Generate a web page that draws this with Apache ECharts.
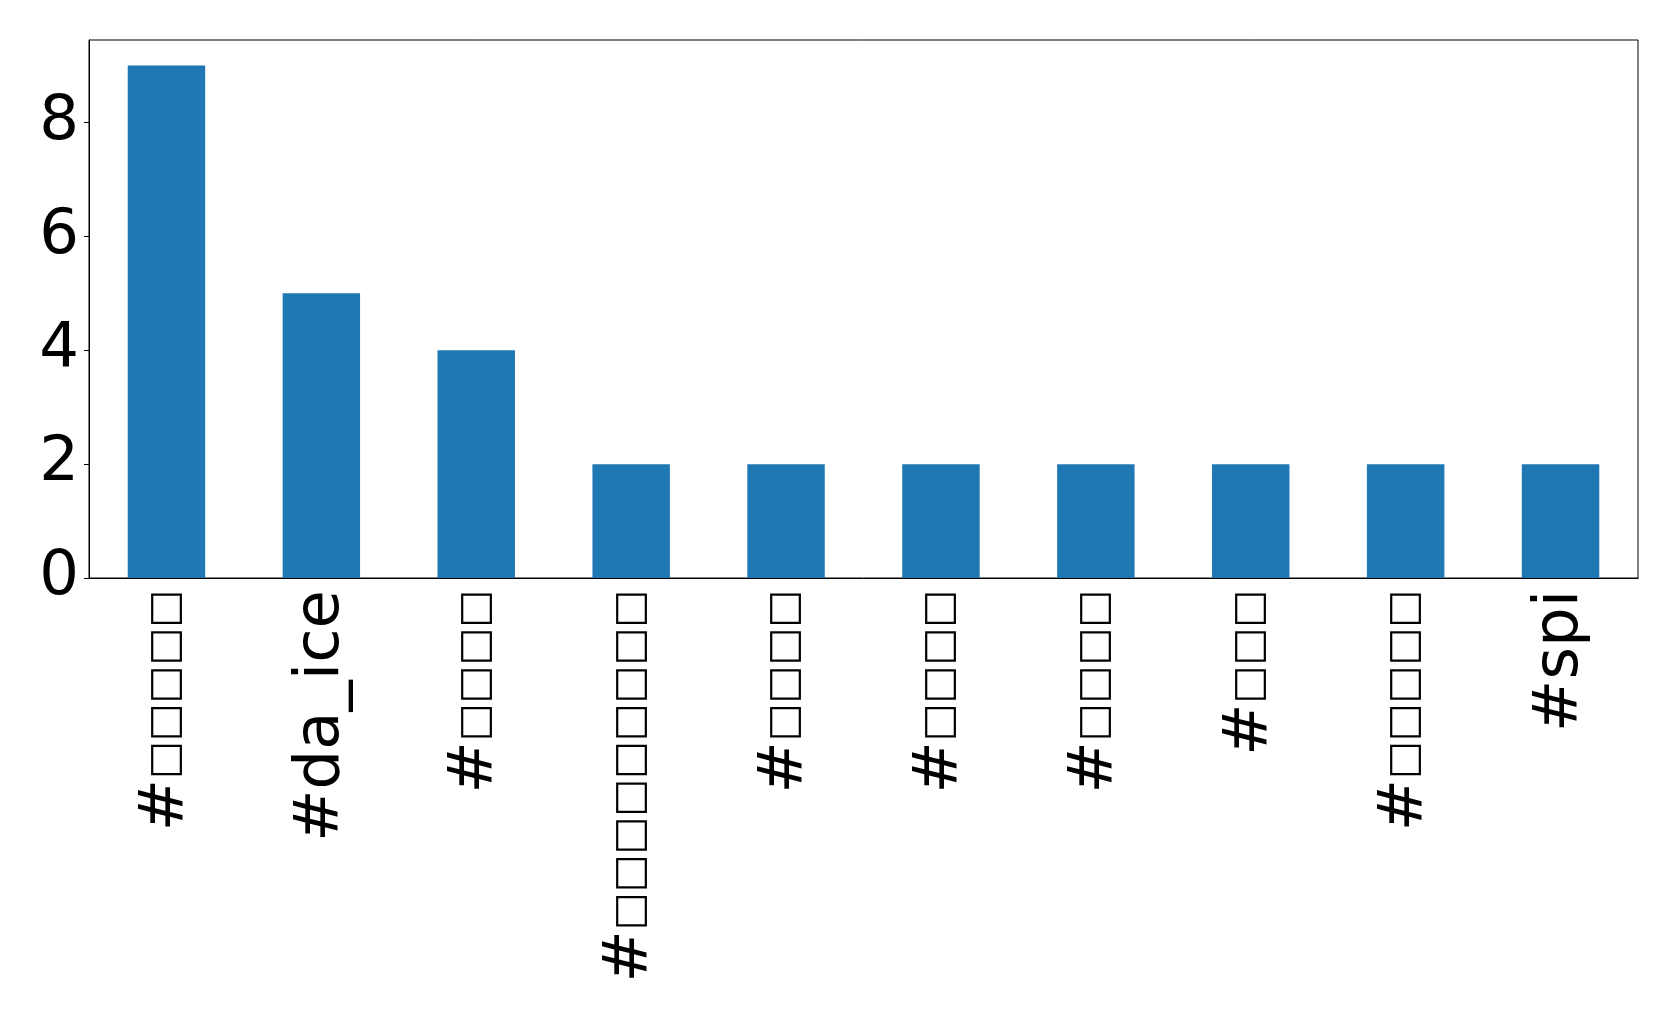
<!DOCTYPE html>
<html>
<head>
<meta charset="utf-8">
<script src="https://cdn.jsdelivr.net/npm/echarts@6/dist/echarts.min.js"></script>
<style>html,body{margin:0;padding:0;background:#fff}#c{width:1679px;height:1018px}</style>
</head>
<body>
<div id="c"></div>
<script>
const categories = ['#□□□□□', '#da_ice', '#□□□□', '#□□□□□□□□□', '#□□□□', '#□□□□', '#□□□□', '#□□□', '#□□□□□', '#spi'];
const values = [9, 5, 4, 2, 2, 2, 2, 2, 2, 2];
const yTicks = [0, 2, 4, 6, 8];

function fmt(s) {
  return s.replace(/□+/g, m => '{box|' + m + '}');
}

const chart = echarts.init(document.getElementById('c'), null, {renderer: 'canvas'});
chart.setOption({
  animation: false,
  backgroundColor: '#fff',
  grid: {left: 89, top: 40, right: 41, bottom: 440, show: true, borderColor: '#000', borderWidth: 1, outerBoundsMode: 'none', containLabel: false},
  xAxis: {
    type: 'category',
    data: categories,
    boundaryGap: true,
    axisLine: {lineStyle: {color: '#000', width: 1}},
    axisTick: {alignWithLabel: true, length: 5, lineStyle: {color: '#000'}},
    axisLabel: {
      rotate: 90, interval: 0, margin: 12, color: '#000', fontSize: 62.5, fontFamily: 'DejaVu Sans',
      formatter: fmt,
      rich: {box: {fontSize: 40, fontFamily: 'DejaVu Sans', color: '#000'}}
    }
  },
  yAxis: {
    type: 'value',
    min: 0,
    max: 9.45,
    interval: 2,
    splitLine: {show: false},
    axisLine: {show: true, lineStyle: {color: '#000', width: 1}},
    axisTick: {show: true, length: 5, lineStyle: {color: '#000'}, customValues: yTicks},
    axisLabel: {margin: 10, color: '#000', fontSize: 62.5, fontFamily: 'DejaVu Sans', customValues: yTicks}
  },
  series: [{
    type: 'bar',
    data: values,
    barWidth: '50%',
    itemStyle: {color: '#1f77b4'}
  }]
});
</script>
</body>
</html>
